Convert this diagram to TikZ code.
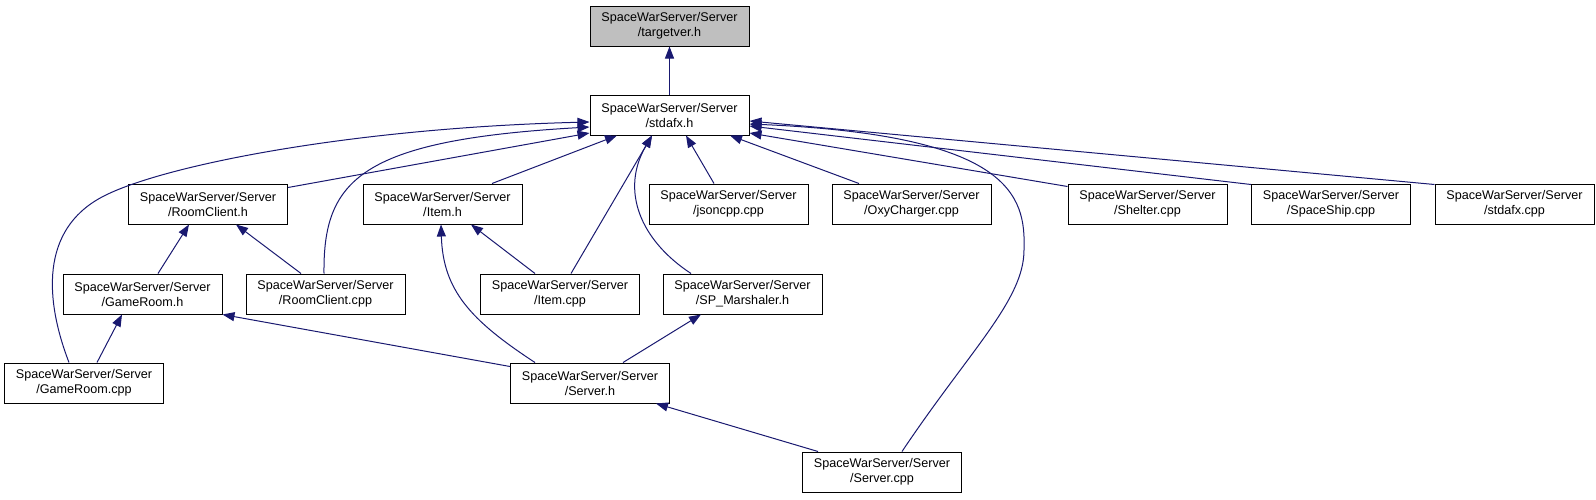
\documentclass[tikz,border=0pt]{standalone}
\usepackage{fontspec}
\setmainfont{Liberation Sans}
\usetikzlibrary{arrows.meta,calc}
\definecolor{edgec}{HTML}{191970}
\definecolor{rootfill}{HTML}{BFBFBF}
\begin{document}
\begin{tikzpicture}[x=1pt,y=-1pt,
  box/.style={draw=black, fill=white, minimum width=159pt, minimum height=40pt, inner sep=0pt, align=center, font=\fontsize{12.6}{15}\selectfont, line width=1pt},
  edge/.style={draw=edgec, line width=1pt, -{Triangle[length=12pt,width=9pt]}}]
\useasboundingbox (0,0) rectangle (1596,499);
\node[box, fill=rootfill] (tv) at (669.5,26) {SpaceWarServer/Server\\/targetver.h};
\node[box] (sh) at (669.5,115) {SpaceWarServer/Server\\/stdafx.h};
\node[box] (rch) at (208,204) {SpaceWarServer/Server\\/RoomClient.h};
\node[box] (ih) at (442.5,204) {SpaceWarServer/Server\\/Item.h};
\node[box] (jc) at (728.5,204) {SpaceWarServer/Server\\/jsoncpp.cpp};
\node[box] (oc) at (911.5,204) {SpaceWarServer/Server\\/OxyCharger.cpp};
\node[box] (sc) at (1147.5,204) {SpaceWarServer/Server\\/Shelter.cpp};
\node[box] (ssc) at (1331,204) {SpaceWarServer/Server\\/SpaceShip.cpp};
\node[box] (sfc) at (1514.5,204) {SpaceWarServer/Server\\/stdafx.cpp};
\node[box] (grh) at (142.5,294) {SpaceWarServer/Server\\/GameRoom.h};
\node[box] (rcc) at (325.5,294) {SpaceWarServer/Server\\/RoomClient.cpp};
\node[box] (ic) at (560,294) {SpaceWarServer/Server\\/Item.cpp};
\node[box] (spm) at (742.5,294) {SpaceWarServer/Server\\/SP\_Marshaler.h};
\node[box] (grc) at (84,383) {SpaceWarServer/Server\\/GameRoom.cpp};
\node[box] (svh) at (590,383) {SpaceWarServer/Server\\/Server.h};
\node[box] (svc) at (882,472) {SpaceWarServer/Server\\/Server.cpp};

\draw[edge] (sh.north) -- (tv.south);
\draw[edge] ($(rch.north east)+(0,4)$) -- ($(sh.west)+(0,18)$);
\draw[edge] ($(grc.north)+(-15,0)$) .. controls (45,300) and (40,230) .. (102,197) .. controls (160,166) and (350,128) .. ($(sh.west)+(0,7)$);
\draw[edge] ($(rcc.north)+(-1.5,0)$) .. controls (323,180) and (360,140) .. ($(sh.west)+(0,12)$);
\draw[edge] ($(ih.north)+(49.5,0)$) -- ($(sh.south)+(-52.5,0)$);
\draw[edge] ($(ic.north)+(11,0)$) -- ($(sh.south)+(-17.5,0)$);
\draw[edge] ($(spm.north)+(-51.5,0)$) .. controls (640,240) and (620,190) .. ($(sh.south)+(-17.5,0)$);
\draw[edge] ($(jc.north)+(-14.5,0)$) -- ($(sh.south)+(16.5,0)$);
\draw[edge] ($(oc.north)+(-52.5,0)$) -- ($(sh.south)+(60.5,0)$);
\draw[edge] ($(sc.north west)+(0,3)$) -- ($(sh.east)+(0,18)$);
\draw[edge] ($(ssc.north west)+(0,1)$) -- ($(sh.east)+(0,11)$);
\draw[edge] ($(sfc.north west)+(0,1)$) -- ($(sh.east)+(0,6)$);
\draw[edge] ($(svc.north)+(20,0)$) .. controls (970,350) and (1024,300) .. (1024,250) .. controls (1026,195) and (1010,135) .. ($(sh.east)+(0,9)$);
\draw[edge] ($(grh.north)+(15.5,0)$) -- ($(rch.south)+(-19,0)$);
\draw[edge] ($(rcc.north)+(-24.5,0)$) -- ($(rch.south)+(28,0)$);
\draw[edge] ($(grc.north)+(13,0)$) -- ($(grh.south)+(-20.5,0)$);
\draw[edge] ($(svh.north west)+(0,4)$) -- (grh.south east);
\draw[edge] ($(ic.north)+(-25,0)$) -- ($(ih.south)+(28.5,0)$);
\draw[edge] ($(svh.north)+(-55,0)$) .. controls (470,320) and (443,290) .. ($(ih.south)+(-1.5,0)$);
\draw[edge] ($(svh.north)+(33,0)$) -- ($(spm.south)+(-41.5,0)$);
\draw[edge] ($(svc.north)+(-64,0)$) -- ($(svh.south)+(66,0)$);
\end{tikzpicture}
\end{document}
